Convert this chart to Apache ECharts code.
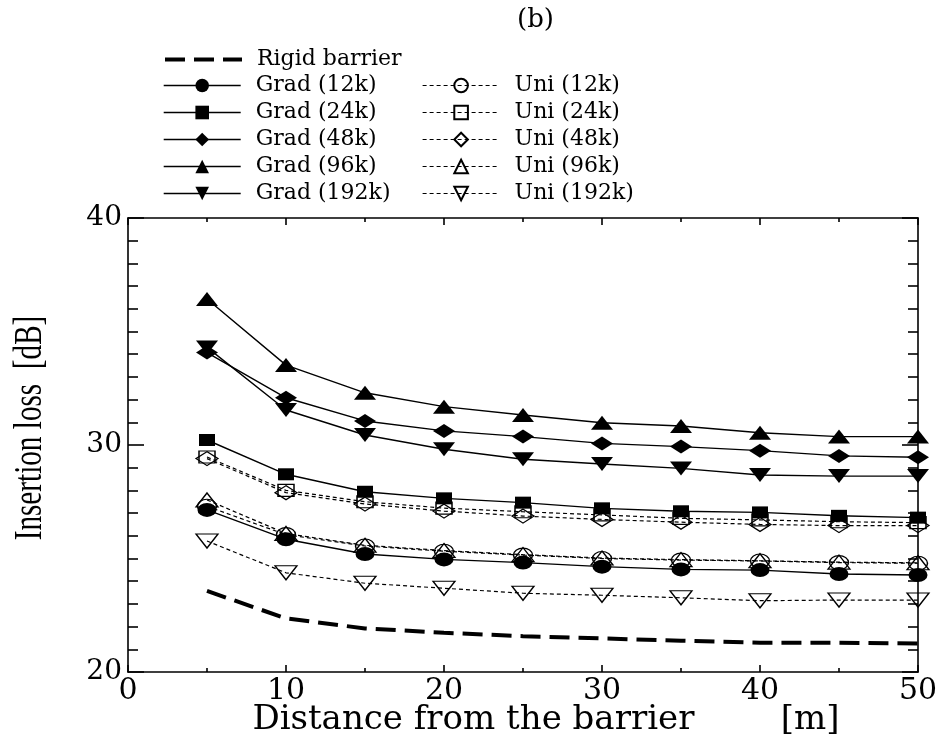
<!DOCTYPE html>
<html>
<head>
<meta charset="utf-8">
<script src="https://cdn.jsdelivr.net/npm/echarts@6/dist/echarts.min.js"></script>
<style>
  html, body { margin: 0; padding: 0; background: #fff; }
  #chart { width: 943px; height: 738px; }
</style>
</head>
<body>
<div id="chart"></div>
<script>
// Distance from the barrier [m]
const distance = [5, 10, 15, 20, 25, 30, 35, 40, 45, 50];

// Insertion loss [dB]
const rigidBarrier = [23.57, 22.36, 21.92, 21.73, 21.58, 21.48, 21.38, 21.29, 21.29, 21.26];
const grad12k  = [27.14, 25.85, 25.20, 24.96, 24.82, 24.64, 24.52, 24.49, 24.32, 24.27];
const grad24k  = [30.22, 28.71, 27.94, 27.65, 27.46, 27.21, 27.08, 27.03, 26.88, 26.80];
const grad48k  = [34.07, 32.08, 31.06, 30.62, 30.37, 30.07, 29.93, 29.75, 29.52, 29.46];
const grad96k  = [36.43, 33.52, 32.30, 31.69, 31.32, 30.98, 30.84, 30.54, 30.37, 30.37];
const grad192k = [34.30, 31.54, 30.44, 29.81, 29.37, 29.16, 28.97, 28.68, 28.63, 28.63];
const uni12k   = [27.30, 26.05, 25.55, 25.32, 25.15, 25.00, 24.93, 24.89, 24.82, 24.79];
const uni24k   = [29.47, 28.00, 27.50, 27.22, 27.06, 26.92, 26.77, 26.70, 26.62, 26.58];
const uni48k   = [29.40, 27.90, 27.40, 27.09, 26.87, 26.72, 26.60, 26.50, 26.45, 26.45];
const uni96k   = [27.58, 26.10, 25.58, 25.35, 25.17, 25.02, 24.95, 24.90, 24.84, 24.81];
const uni192k  = [25.77, 24.37, 23.91, 23.69, 23.47, 23.38, 23.27, 23.14, 23.17, 23.17];

const xTicks = [0, 10, 20, 30, 40, 50];
const yTicks = [20, 30, 40];

const serif = 'DejaVu Serif';
const ELLIPSE = 'path://M0,50 A50,50 0 1,1 100,50 A50,50 0 1,1 0,50 Z';
const TRI_DOWN = 'path://M0,0 L100,0 L50,100 Z';

const markers = {
  '12k':  { symbol: ELLIPSE,    size: [19, 14] },
  '24k':  { symbol: 'rect',     size: [16, 12] },
  '48k':  { symbol: 'diamond',  size: [22, 14] },
  '96k':  { symbol: 'triangle', size: [22, 14] },
  '192k': { symbol: TRI_DOWN,   size: [22, 14] }
};

const pairs = vals => distance.map((d, i) => [d, vals[i]]);

function gradSeries(name, key, vals) {
  return {
    name, type: 'line', data: pairs(vals),
    symbol: markers[key].symbol, symbolSize: markers[key].size,
    lineStyle: { color: '#000', width: 1.4, type: 'solid' },
    itemStyle: { color: '#000', borderWidth: 0 },
    z: 3
  };
}
function uniSeries(name, key, vals) {
  return {
    name, type: 'line', data: pairs(vals),
    symbol: markers[key].symbol, symbolSize: markers[key].size,
    lineStyle: { color: '#000', width: 1.2, type: [4, 3] },
    itemStyle: { color: 'rgba(255,255,255,0)', borderColor: '#000', borderWidth: 1.3 },
    z: 2
  };
}

const series = [
  {
    name: 'Rigid barrier', type: 'line', data: pairs(rigidBarrier),
    symbol: 'none',
    lineStyle: { color: '#000', width: 4, type: [20, 9] },
    itemStyle: { color: 'rgba(0,0,0,0)' },
    z: 1
  },
  gradSeries('Grad (12k)', '12k', grad12k),
  gradSeries('Grad (24k)', '24k', grad24k),
  gradSeries('Grad (48k)', '48k', grad48k),
  gradSeries('Grad (96k)', '96k', grad96k),
  gradSeries('Grad (192k)', '192k', grad192k),
  uniSeries('Uni (12k)', '12k', uni12k),
  uniSeries('Uni (24k)', '24k', uni24k),
  uniSeries('Uni (48k)', '48k', uni48k),
  uniSeries('Uni (96k)', '96k', uni96k),
  uniSeries('Uni (192k)', '192k', uni192k)
];

const legendText = { fontFamily: serif, fontSize: 22, color: '#000', lineHeight: 17, padding: [0, 0, 0, 10] };
const legendBase = {
  orient: 'vertical', padding: 0, itemWidth: 77, itemHeight: 17, itemGap: 5,
  selectedMode: false, textStyle: legendText
};

const axisLineStyle = { color: '#000', width: 1.6 };
const xAxisBase = {
  type: 'value', min: xTicks[0], max: xTicks[xTicks.length - 1], interval: 10,
  axisLine: { show: true, onZero: false, lineStyle: axisLineStyle },
  axisTick: { show: true, inside: true, length: 7, lineStyle: axisLineStyle },
  minorTick: { show: true, splitNumber: 2, length: 4, lineStyle: axisLineStyle },
  splitLine: { show: false }, minorSplitLine: { show: false }
};
const yAxisBase = {
  type: 'value', min: yTicks[0], max: yTicks[yTicks.length - 1], interval: 10,
  axisLine: { show: true, onZero: false, lineStyle: axisLineStyle },
  axisTick: { show: true, inside: true, length: 16, lineStyle: axisLineStyle },
  minorTick: { show: true, splitNumber: 10, length: 10, lineStyle: axisLineStyle },
  splitLine: { show: false }, minorSplitLine: { show: false }
};

const chart = echarts.init(document.getElementById('chart'), null, { renderer: 'canvas' });
chart.setOption({
  animation: false,
  backgroundColor: '#fff',
  title: {
    text: '(b)', left: 517, top: 7, padding: 0,
    textStyle: { fontFamily: serif, fontSize: 26, fontWeight: 'normal', color: '#000' }
  },
  legend: [
    Object.assign({}, legendBase, { left: 163, top: 48.5, data: ['Rigid barrier'], lineStyle: { width: 4 } }),
    Object.assign({}, legendBase, { left: 163, top: 74.5, lineStyle: { width: 1.4 },
      data: ['Grad (12k)', 'Grad (24k)', 'Grad (48k)', 'Grad (96k)', 'Grad (192k)'] }),
    Object.assign({}, legendBase, { left: 422, top: 74.5, lineStyle: { width: 1.2 },
      data: ['Uni (12k)', 'Uni (24k)', 'Uni (48k)', 'Uni (96k)', 'Uni (192k)'] })
  ],
  grid: { left: 128, right: 25, top: 218, bottom: 66, containLabel: false, outerBoundsMode: 'none' },
  xAxis: [
    Object.assign({}, xAxisBase, {
      position: 'bottom',
      axisLabel: { show: true, fontFamily: serif, fontSize: 30, color: '#000', margin: 4 },
      name: 'Distance from the barrier        [m]', nameLocation: 'middle', nameGap: 31,
      nameMoveOverlap: false,
      nameTextStyle: { fontFamily: serif, fontSize: 34, color: '#000', padding: [0, 0, 0, 46] }
    }),
    Object.assign({}, xAxisBase, { position: 'top', axisLabel: { show: false } })
  ],
  yAxis: [
    Object.assign({}, yAxisBase, {
      position: 'left',
      axisLabel: { show: true, fontFamily: serif, fontSize: 28, color: '#000', margin: 6 }
    }),
    Object.assign({}, yAxisBase, { position: 'right', axisLabel: { show: false } })
  ],
  graphic: [{
    type: 'text', x: 30, y: 428, rotation: Math.PI / 2, scaleX: 0.73, scaleY: 1,
    style: {
      text: 'Insertion loss  [dB]', fontFamily: 'Liberation Serif', fontSize: 40,
      fill: '#000', align: 'center', verticalAlign: 'middle'
    }
  }],
  series
});
</script>
</body>
</html>
